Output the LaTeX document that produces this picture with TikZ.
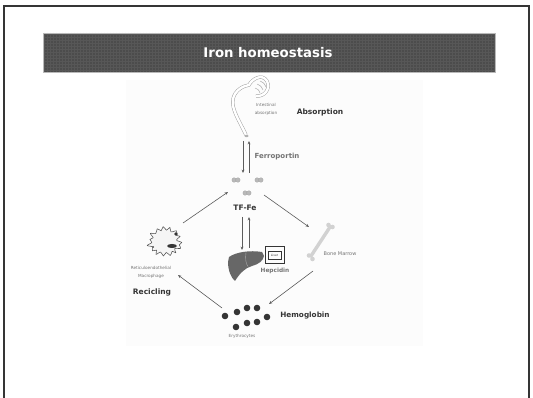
\documentclass[tikz,border=0pt]{standalone}
\usepackage{fontspec}
\setmainfont{DejaVu Sans}
\usetikzlibrary{arrows.meta}

\definecolor{barbg}{HTML}{4C4C4C}
\definecolor{bargrid}{HTML}{575757}
\definecolor{ink}{HTML}{353535}
\definecolor{soft}{HTML}{747474}
\definecolor{flowc}{HTML}{5C5C5C}
\definecolor{liverc}{HTML}{676767}
\definecolor{bonec}{HTML}{D2D2D2}
\definecolor{tubec}{HTML}{9A9A9A}

\tikzset{
  flow/.style={draw=flowc, line width=0.6pt, -{Stealth[length=3.4pt,width=2.8pt]}},
  bold label/.style={font=\fontsize{7.5}{8}\selectfont\bfseries, text=ink, inner sep=0},
  gray label/.style={font=\fontsize{7}{8}\selectfont\bfseries, text=soft, inner sep=0},
  tiny label/.style={font=\fontsize{4.2}{8}\selectfont, text=soft, inner sep=0, align=center},
  tube/.style={draw=tubec, line width=0.45pt, double=white, double distance=2.4pt},
  rbc/.style={fill=ink, draw=none},
  tfblob/.style={fill=gray!55, draw=gray!75, line width=0.2pt},
}

\begin{document}
\begin{tikzpicture}[x=1pt, y=-1pt]
  \useasboundingbox (0,0) rectangle (533,398);

  % page frame (open at the bottom)
  \draw[ink, line width=1.2pt] (4,398) -- (4,6) -- (529,6) -- (529,398);

  % title bar with a fine woven texture
  \fill[barbg] (43,33) rectangle (495,72);
  \begin{scope}
    \clip (43,33) rectangle (495,72);
    \foreach \gx in {44,47,...,494} \draw[bargrid, line width=0.35pt] (\gx,33) -- (\gx,72);
    \foreach \gy in {34,37,...,71} \draw[bargrid, line width=0.35pt] (43,\gy) -- (495,\gy);
  \end{scope}
  \draw[gray!55, line width=0.6pt] (43,33) rectangle (495,72);
  \node[font=\fontsize{13.3}{14}\selectfont\bfseries, text=white, inner sep=0] (title) at (268,52.5) {Iron homeostasis};

  % figure panel
  \fill[black!1.2] (126,80) rectangle (423,346);

  % ---------- intestine ----------
  \draw[tube] (246,135) .. controls (240,122) and (231,109) .. (233,99)
              .. controls (235,90) and (243,86) .. (249,85)
              .. controls (252,79) and (262,73) .. (267,81)
              .. controls (271,89) and (264,97) .. (256,96);
  \draw[tubec, line width=0.4pt] (257,84) .. controls (261,86) .. (263,90);
  \draw[tubec, line width=0.4pt] (255,88) .. controls (259,90) .. (260,93);
  \draw[tubec, line width=0.4pt] (260,81) .. controls (264,83) .. (266,87);
  \fill[gray!60] (246.5,136) ellipse (2 and 1.2);
  \coordinate (gut) at (246,137);
  \node[tiny label] (gutlbl) at (266,109) {Intestinal\\absorption};
  \node[bold label] (absorb) at (320,112) {Absorption};

  % ---------- transferrin-bound iron ----------
  \foreach \n/\px/\py in {tfa/236/180, tfb/259/180, tfc/247/193}{
    \fill[tfblob] (\px-1.9,\py) circle (2.3);
    \fill[tfblob] (\px+1.9,\py) circle (2.3);
    \coordinate (\n) at (\px,\py);
  }
  \node[bold label] (tf) at (245,208) {TF-Fe};

  % ferroportin exchange
  \coordinate (fpTopL) at (243,141);
  \coordinate (fpBotL) at (243,173);
  \coordinate (fpTopR) at (249,141);
  \coordinate (fpBotR) at (249,173);
  \draw[flow] (fpTopL) -- (fpBotL);
  \draw[flow] (fpBotR) -- (fpTopR);
  \node[gray label] (ferro) at (277,157) {Ferroportin};

  % ---------- liver ----------
  \fill[liverc] (229,257) .. controls (236,252) and (250,250) .. (262,252)
       -- (264,256) .. controls (263,261) and (259,264) .. (252,266)
       .. controls (245,268) and (240,273) .. (235,281)
       .. controls (231,278) and (228,270) .. (228,262) -- cycle;
  \draw[liverc!55!white, line width=0.4pt] (246,252.5) .. controls (245,259) and (246,264) .. (248,266.5);
  \node[draw=ink, line width=1pt, minimum width=19pt, minimum height=17pt, inner sep=0] (liverbox) at (274.5,255.5) {};
  \node[draw=ink, line width=0.3pt, minimum width=13pt, minimum height=8pt, inner sep=0,
        font=\fontsize{3}{3}\selectfont, text=ink] (livertxt) at (274.5,255.5) {Liver};
  \node[font=\fontsize{5.8}{6}\selectfont\bfseries, text=soft, inner sep=0] (hepc) at (275,271) {Hepcidin};

  \coordinate (tfDownTop) at (242,217);
  \coordinate (tfDownBot) at (242,250);
  \coordinate (tfUpTop) at (249,217);
  \coordinate (tfUpBot) at (249,248);
  \draw[flow] (tfDownTop) -- (tfDownBot);
  \draw[flow] (tfUpBot) -- (tfUpTop);

  % ---------- bone ----------
  \draw[bonec, line width=3.4pt, line cap=round] (311,256) -- (330,227);
  \fill[bonec] (328.5,225) circle (2.3) (332.5,227) circle (2.3)
               (309,255.5) circle (2.3) (312.5,259) circle (2.3);
  \node[font=\fontsize{5}{6}\selectfont, text=soft, inner sep=0] (bone) at (340,254) {Bone Marrow};

  % ---------- erythrocytes ----------
  \foreach \n/\px/\py in {r1/225/316, r2/237/312, r3/247/308, r4/257/308,
                          r5/267/317, r6/257/322, r7/247/323, r8/236/327}{
    \fill[rbc] (\px,\py) circle (3.3);
    \coordinate (\n) at (\px,\py);
  }
  \node[bold label, font=\fontsize{7.3}{8}\selectfont\bfseries] (hb) at (305,316) {Hemoglobin};
  \node[tiny label] (ery) at (242,336) {Erythrocytes};

  % ---------- macrophage ----------
  \draw[fill=gray!8, draw=gray!65!black, line width=0.55pt, line join=round]
    plot[smooth cycle, tension=0.55, samples=30, domain=0:348]
      ({165+(15+1.8*cos(15*\x)+1.4*sin(37*\x))*cos(\x)},
       {242.5+(13+1.8*cos(15*\x)+1.2*sin(29*\x))*sin(\x)});
  \fill[ink] (172,246) ellipse (5 and 2);
  \fill[ink] (176,234) circle (1.9);
  \fill[gray!60!black] (153,247) circle (1);
  \coordinate (mac) at (165,242);
  \node[tiny label] (maclbl) at (151,272) {Reticuloendothelial\\Macrophage};
  \node[bold label] (recyc) at (152,292.5) {Recicling};

  % ---------- iron flows ----------
  \coordinate (macOut) at (183,223);
  \coordinate (tfIn) at (228,192);
  \coordinate (tfOut) at (264,195);
  \coordinate (boneIn) at (309,227);
  \coordinate (boneOut) at (313,271);
  \coordinate (eryIn) at (269,304);
  \coordinate (eryOut) at (222,308);
  \coordinate (macIn) at (178,275);
  \draw[flow] (macOut) -- (tfIn);
  \draw[flow] (tfOut) -- (boneIn);
  \draw[flow] (boneOut) -- (eryIn);
  \draw[flow] (eryOut) -- (macIn);
\end{tikzpicture}
\end{document}
